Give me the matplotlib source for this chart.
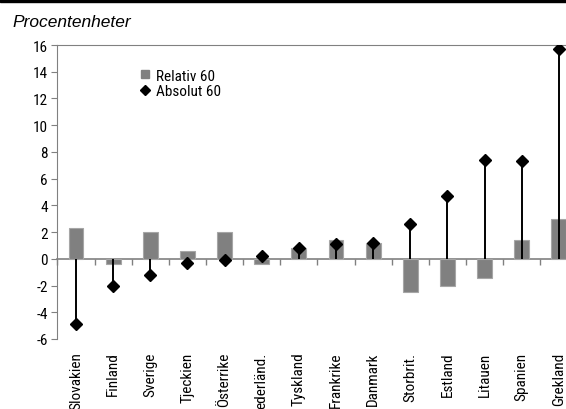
import matplotlib
matplotlib.use("Agg")
import matplotlib.pyplot as plt
from matplotlib.patches import Rectangle
from matplotlib.lines import Line2D
import numpy as np

countries = ["Slovakien", "Finland", "Sverige", "Tjeckien", "Österrike", "ederländ.",
             "Tyskland", "Frankrike", "Danmark", "Storbrit.", "Estland", "Litauen",
             "Spanien", "Grekland"]
relativ60 = [2.3, -0.4, 2.0, 0.55, 2.0, -0.4, 0.8, 1.4, 1.2, -2.5, -2.0, -1.4, 1.4, 3.0]
absolut60 = [-4.9, -2.0, -1.2, -0.3, -0.1, 0.2, 0.8, 1.1, 1.2, 2.6, 4.7, 7.4, 7.3, 15.7]
yticks = [-6, -4, -2, 0, 2, 4, 6, 8, 10, 12, 14, 16]

FONT = ["Roboto Condensed", "Archivo Narrow", "DejaVu Sans"]
plt.rcParams["font.family"] = FONT
GREY = "#808080"
FS = 11

W, H = 566, 410
fig = plt.figure(figsize=(W / 100, H / 100), dpi=100)
ax = fig.add_axes([57.4 / W, (H - 340) / H, 520 / W, 294 / H])

x = np.arange(len(countries))
ax.bar(x, relativ60, width=0.4, color=GREY, edgecolor="#a6a6a6", linewidth=0.8,
       zorder=2)
ax.vlines(x, 0, absolut60, color="black", linewidth=1.4, zorder=3)
ax.plot(x, absolut60, linestyle="none", marker="D", markersize=6.6, color="black",
        zorder=4)

ax.set_xlim(-0.5, len(countries) - 0.5)
ax.set_ylim(yticks[0], yticks[-1])

ax.spines["right"].set_visible(False)
ax.spines["top"].set_color(GREY)
ax.spines["left"].set_color(GREY)
ax.spines["bottom"].set_position(("data", 0))
ax.spines["bottom"].set_color(GREY)
ax.spines["bottom"].set_linewidth(1.2)
ax.spines["bottom"].set_zorder(1)

ax.set_yticks(yticks)
ax.set_yticklabels([str(v) for v in yticks], fontsize=FS)
ax.tick_params(axis="y", direction="out", length=4, color=GREY, pad=3)

ax.set_xticks(x - 0.5)
ax.set_xticklabels([])
ax.tick_params(axis="x", direction="out", length=4, color=GREY, width=1)

sec = ax.secondary_xaxis("bottom")
sec.set_xticks(x)
sec.set_xticklabels(countries, rotation=90, fontsize=FS, va="top")
sec.tick_params(length=0, pad=9)
sec.spines["bottom"].set_visible(False)

handles = [Line2D([], [], linestyle="none", marker="s", markersize=6, color=GREY),
           Line2D([], [], linestyle="none", marker="D", markersize=5, color="black")]
ax.legend(handles, ["Relativ 60", "Absolut 60"], loc="upper left",
          bbox_to_anchor=(0.158, 0.92), frameon=False, fontsize=FS,
          handlelength=0.7, handletextpad=0.4, labelspacing=0.1,
          borderpad=0, borderaxespad=0)

fig.text(12 / W, 1 - 27 / H, "Procentenheter", fontsize=12.5, style="italic",
         family=["Liberation Sans", "DejaVu Sans"], va="baseline", ha="left")
fig.add_artist(Rectangle((0, 1 - 3.3 / H), 1, 3.3 / H, transform=fig.transFigure,
                         color="black", zorder=10))

fig.savefig("out.png", dpi=100)
